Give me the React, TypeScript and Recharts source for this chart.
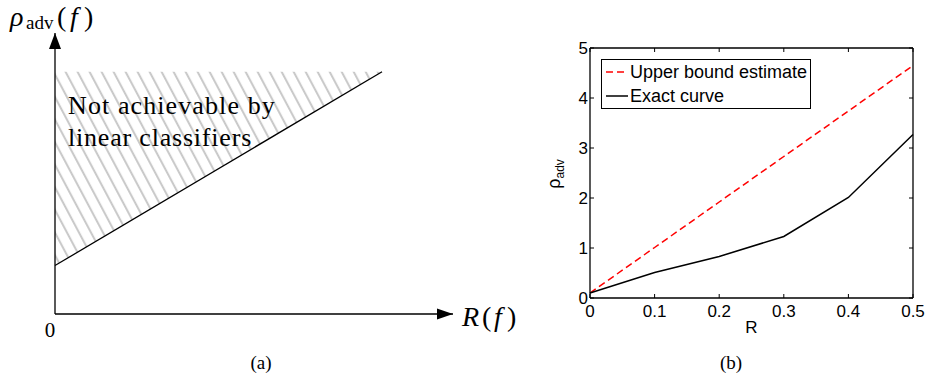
import React from 'react';
import { ComposedChart, LineChart, Line, Area, Scatter, XAxis, YAxis, Legend, ReferenceLine } from 'recharts';

// (a) schematic: boundary of what linear classifiers can reach
const boundaryR = [0, 1];
const boundaryRho = [0.2, 1];
const hatchTop = 1;
const axisEndR = 1.217;
const axisEndRho = 1.16;

// (b) measured curves
const rValues = [0, 0.1, 0.2, 0.3, 0.4, 0.5];
const upperBound = [0.1, 1.01, 1.92, 2.83, 3.74, 4.65];
const exactCurve = [0.1, 0.51, 0.83, 1.23, 2.01, 3.27];
const xTicks = [0, 0.1, 0.2, 0.3, 0.4, 0.5];
const yTicks = [0, 1, 2, 3, 4, 5];
const seriesNames = ['Upper bound estimate', 'Exact curve'];
const seriesColors = ['#ff0000', '#000000'];
const seriesDash = ['7 4', undefined];

const serif = '"Liberation Serif", "Times New Roman", serif';
const sans = '"Liberation Sans", Arial, Helvetica, sans-serif';

const boundaryData = boundaryR.map((x, i) => ({
  x,
  y: boundaryRho[i],
  band: [boundaryRho[i], hatchTop],
}));
const xArrowData = [{ x: axisEndR, y: 0 }];
const yArrowData = [{ x: 0, y: axisEndRho }];

const curveData = rValues.map((r, i) => ({
  r,
  upper: upperBound[i],
  exact: exactCurve[i],
}));

const RightArrow = (p: any) => (
  <path d={`M${p.cx},${p.cy} l-16,-5.5 l0,11 z`} fill="#000" />
);
const UpArrow = (p: any) => (
  <path d={`M${p.cx},${p.cy} l-6,16 l12,0 z`} fill="#000" />
);

const fmtR = (v: number) => (v === 0 ? '0' : String(v));

const LegendBox = () => (
  <div
    style={{
      border: '1px solid #000',
      background: '#fff',
      padding: '0px 3px 0px 3px',
      fontFamily: sans,
      fontSize: 18,
      lineHeight: '24px',
      color: '#000',
      whiteSpace: 'nowrap',
    }}
  >
    {seriesNames.map((name, i) => (
      <div key={name} style={{ display: 'flex', alignItems: 'center', height: 24 }}>
        <svg width={25} height={24}>
          <line
            x1={1}
            x2={23}
            y1={12}
            y2={12}
            stroke={seriesColors[i]}
            strokeWidth={1.5}
            strokeDasharray={seriesDash[i]}
          />
        </svg>
        <span>{name}</span>
      </div>
    ))}
  </div>
);

const YLabel = (props: any) => {
  const vb = props.viewBox || { x: 10, y: 48, width: 40, height: 250 };
  const cx = vb.x + 10;
  const cy = vb.y + vb.height / 2 + 1;
  return (
    <text
      transform={`translate(${cx},${cy}) rotate(-90)`}
      textAnchor="middle"
      fontFamily={sans}
      fontSize={18}
      fill="#000"
    >
      ρ<tspan fontSize={12} dy={4}>adv</tspan>
    </text>
  );
};

const boxLine = { stroke: '#000', strokeWidth: 1.3 };

export default function App() {
  return (
    <div style={{ position: 'absolute', left: 0, top: 0, width: 928, height: 383, background: '#fff' }}>
      <div style={{ position: 'absolute', left: 0, top: 0 }}>
        <ComposedChart width={480} height={383} margin={{ top: 33, right: 27, bottom: 69, left: 55 }}>
          <defs>
            <pattern
              id="hatchA"
              patternUnits="userSpaceOnUse"
              width="10.6"
              height="10.6"
              patternTransform="rotate(-28)"
            >
              <line x1="3" y1="0" x2="3" y2="10.6" stroke="#c8c8c8" strokeWidth="2" />
            </pattern>
          </defs>
          <XAxis dataKey="x" type="number" domain={[0, axisEndR]} hide />
          <YAxis dataKey="y" type="number" domain={[0, axisEndRho]} hide />
          <Area
            data={boundaryData}
            dataKey="band"
            type="linear"
            stroke="none"
            fill="url(#hatchA)"
            fillOpacity={1}
            isAnimationActive={false}
          />
          <Line
            data={boundaryData}
            dataKey="y"
            type="linear"
            stroke="#000"
            strokeWidth={1.3}
            dot={false}
            activeDot={false}
            isAnimationActive={false}
          />
          <ReferenceLine x={0} stroke="#000" strokeWidth={1.3} ifOverflow="visible" />
          <ReferenceLine y={0} stroke="#000" strokeWidth={1.3} ifOverflow="visible" />
          <Scatter data={xArrowData} dataKey="y" shape={RightArrow} isAnimationActive={false} />
          <Scatter data={yArrowData} dataKey="y" shape={UpArrow} isAnimationActive={false} />
        </ComposedChart>
      </div>

      <div style={{ position: 'absolute', left: 540, top: 0 }}>
        <LineChart width={388} height={383} data={curveData} margin={{ top: 43, right: 10, bottom: 45, left: 10 }}>
          <XAxis
            xAxisId="b"
            dataKey="r"
            type="number"
            domain={[0, 0.5]}
            ticks={xTicks}
            interval={0}
            tickFormatter={fmtR}
            height={40}
            tickSize={-4}
            tickMargin={11}
            axisLine={boxLine}
            tickLine={{ stroke: '#000' }}
            tick={{ fill: '#000', fontSize: 17, fontFamily: sans }}
            label={{ value: 'R', position: 'insideTop', offset: 23, fill: '#000', fontSize: 17, fontFamily: sans }}
          />
          <XAxis
            xAxisId="t"
            dataKey="r"
            orientation="top"
            type="number"
            domain={[0, 0.5]}
            allowDataOverflow
            ticks={xTicks}
            interval={0}
            tickFormatter={() => ''}
            height={5}
            tickSize={-4}
            axisLine={boxLine}
            tickLine={{ stroke: '#000' }}
          />
          <YAxis
            yAxisId="l"
            type="number"
            domain={[0, 5]}
            ticks={yTicks}
            interval={0}
            width={40}
            tickSize={-4}
            tickMargin={6}
            axisLine={boxLine}
            tickLine={{ stroke: '#000' }}
            tick={{ fill: '#000', fontSize: 17, fontFamily: sans }}
            label={{ content: (p: any) => <YLabel {...p} /> }}
          />
          <YAxis
            yAxisId="r"
            dataKey="upper"
            orientation="right"
            type="number"
            domain={[0, 5]}
            allowDataOverflow
            ticks={yTicks}
            interval={0}
            width={5}
            tickSize={-4}
            tickFormatter={() => ''}
            axisLine={boxLine}
            tickLine={{ stroke: '#000' }}
          />
          <Legend
            layout="horizontal"
            verticalAlign="middle"
            align="center"
            wrapperStyle={{ left: 61, top: 59, width: 'auto' }}
            content={() => <LegendBox />}
          />
          <Line
            xAxisId="b"
            yAxisId="l"
            dataKey="upper"
            name={seriesNames[0]}
            type="linear"
            stroke={seriesColors[0]}
            strokeWidth={1.5}
            strokeDasharray={seriesDash[0]}
            dot={false}
            activeDot={false}
            isAnimationActive={false}
          />
          <Line
            xAxisId="b"
            yAxisId="l"
            dataKey="exact"
            name={seriesNames[1]}
            type="linear"
            stroke={seriesColors[1]}
            strokeWidth={1.5}
            dot={false}
            activeDot={false}
            isAnimationActive={false}
          />
        </LineChart>
      </div>

      <svg
        width={928}
        height={383}
        style={{ position: 'absolute', left: 0, top: 0, pointerEvents: 'none' }}
        fontFamily={serif}
        fill="#000"
      >
        <text y={26} fontSize={28}>
          <tspan x={10} fontStyle="italic">ρ</tspan>
          <tspan x={26} y={29} fontSize={19}>adv</tspan>
          <tspan x={57} y={26}>(</tspan>
          <tspan x={70} fontStyle="italic">f</tspan>
          <tspan x={84}>)</tspan>
        </text>
        <text y={326} fontSize={28}>
          <tspan x={462} fontStyle="italic">R</tspan>
          <tspan x={482}>(</tspan>
          <tspan x={494} fontStyle="italic">f</tspan>
          <tspan x={507}>)</tspan>
        </text>
        <text x={50} y={337} fontSize={21} textAnchor="middle">0</text>
        <text x={68} y={114} fontSize={26} letterSpacing={1.1}>Not achievable by</text>
        <text x={68} y={146} fontSize={26} letterSpacing={0.8}>linear classifiers</text>
        <text x={261} y={369} fontSize={19} textAnchor="middle">(a)</text>
        <text x={731} y={369} fontSize={19} textAnchor="middle">(b)</text>
      </svg>
    </div>
  );
}
